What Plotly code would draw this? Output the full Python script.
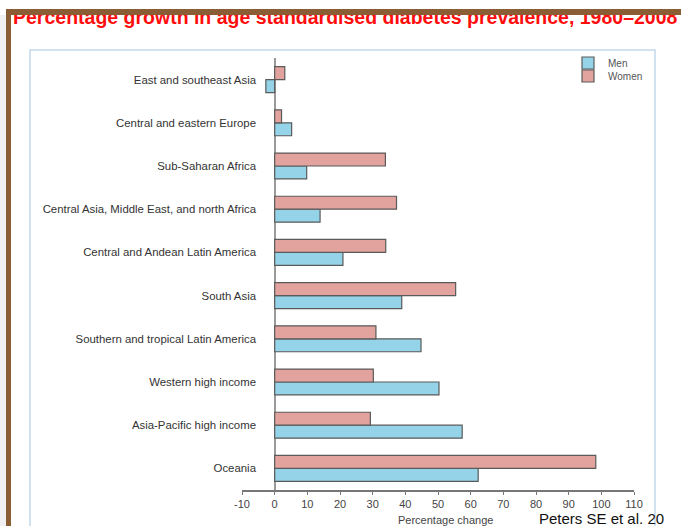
import plotly.graph_objects as go

# ---- data (top to bottom as in the reference) ----
regions = [
    "East and southeast Asia",
    "Central and eastern Europe",
    "Sub-Saharan Africa",
    "Central Asia, Middle East, and north Africa",
    "Central and Andean Latin America",
    "South Asia",
    "Southern and tropical Latin America",
    "Western high income",
    "Asia-Pacific high income",
    "Oceania",
]
men = [-2.7, 5.2, 9.8, 13.9, 20.9, 38.9, 44.8, 50.3, 57.4, 62.3]
women = [3.1, 2.1, 33.9, 37.3, 34.0, 55.4, 31.0, 30.2, 29.3, 98.3]
x_ticks = list(range(-10, 111, 10))
x_tick_labels = [str(v) for v in x_ticks]

title_text = "Percentage growth in age standardised diabetes prevalence, 1980\u20132008"
x_title = "Percentage change"
source_text = "Peters SE et al. 20"

# ---- geometry helpers ----
W, H = 681, 526
ML, MR, MT, MB = 242, 47, 58, 36
PW, PH = W - ML - MR, H - MT - MB


def px(xp):
    return (xp - ML) / PW


def py(yp):
    return (H - MB - yp) / PH


FONT = "Liberation Sans, Arial, sans-serif"
BROWN = "#8b5d35"

fig = go.Figure()
fig.add_trace(go.Bar(
    y=regions, x=men, orientation="h", name="Men",
    marker=dict(color="#95d4e8", line=dict(color="#5a5a5a", width=1.2)),
    legend="legend",
))
fig.add_trace(go.Bar(
    y=regions, x=women, orientation="h", name="Women",
    marker=dict(color="#e2a39e", line=dict(color="#5a5a5a", width=1.2)),
    legend="legend2",
))

fig.update_layout(
    width=W, height=H,
    margin=dict(l=ML, r=MR, t=MT, b=MB, autoexpand=False),
    paper_bgcolor="white", plot_bgcolor="white",
    barmode="group", bargap=0.4, bargroupgap=0,
    font=dict(family=FONT, color="#333"),
    xaxis=dict(
        range=[-10, 110], tickvals=x_ticks, ticktext=x_tick_labels,
        showgrid=False,
        showline=True, linecolor="#777", linewidth=1.5,
        ticks="outside", ticklen=3, tickcolor="#777", tickwidth=1.2,
        tickfont=dict(size=11, color="#444"),
        zeroline=True, zerolinecolor="#9a9a9a", zerolinewidth=1.5,
        automargin=False, fixedrange=True,
    ),
    yaxis=dict(
        categoryorder="array", categoryarray=regions[::-1],
        range=[-0.5, 9.5], anchor="free", position=px(256),
        showgrid=False, showline=False, zeroline=False, ticks="",
        tickfont=dict(size=11.4, color="#333"),
        automargin=False, fixedrange=True,
    ),
    legend=dict(
        x=px(568), xanchor="left", y=py(63), yanchor="middle",
        bgcolor="rgba(0,0,0,0)", borderwidth=0,
        font=dict(size=10, color="#555"),
    ),
    legend2=dict(
        x=px(568), xanchor="left", y=py(76), yanchor="middle",
        bgcolor="rgba(0,0,0,0)", borderwidth=0,
        font=dict(size=10, color="#555"),
    ),
    showlegend=True,
)

# frame / decoration
shapes = [
    dict(type="rect", xref="paper", yref="paper",
         x0=px(0), x1=px(6), y0=py(15), y1=py(H + 5),
         fillcolor="#f1f1f1", line=dict(width=0), layer="below"),
    dict(type="rect", xref="paper", yref="paper",
         x0=px(6), x1=px(11), y0=py(9), y1=py(H + 5),
         fillcolor=BROWN, line=dict(width=0), layer="above"),
    dict(type="rect", xref="paper", yref="paper",
         x0=px(30), x1=px(655), y0=py(50), y1=py(H + 10),
         fillcolor="rgba(0,0,0,0)", line=dict(color="#c3d7ea", width=1.5),
         layer="below"),
]
fig.update_layout(shapes=shapes)

annotations = [
    dict(text="<b>" + title_text + "</b>", xref="paper", yref="paper",
         x=px(12), xanchor="left", y=py(17.2), yanchor="middle",
         showarrow=False, borderpad=0,
         font=dict(family=FONT, size=19.5, color="#ff0d0d")),
    # top brown band (drawn over the title to crop it, like the slide)
    dict(text=" ", xref="paper", yref="paper",
         x=px(6), xanchor="left", y=py(9), yanchor="top",
         width=W - 6, height=6, bgcolor=BROWN, borderpad=0, borderwidth=0,
         showarrow=False),
    dict(text=x_title, xref="paper", yref="paper",
         x=px(445), xanchor="center", y=py(520), yanchor="middle",
         showarrow=False, borderpad=0,
         font=dict(family=FONT, size=11, color="#444")),
    dict(text=source_text, xref="paper", yref="paper",
         x=px(538), xanchor="left", y=py(518), yanchor="middle",
         showarrow=False, borderpad=0,
         font=dict(family=FONT, size=15, color="#111")),
]
fig.update_layout(annotations=annotations)

fig.write_html("out.html", config=dict(displayModeBar=False))
